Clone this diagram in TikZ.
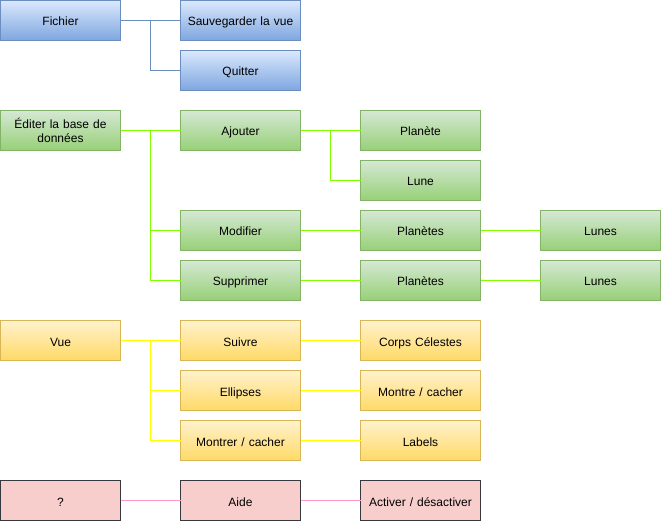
\documentclass[tikz,border=0pt]{standalone}
\usepackage{fontspec}
\setmainfont{Liberation Sans}
\definecolor{bluetop}{HTML}{DAE8FC}
\definecolor{bluebot}{HTML}{7EA6E0}
\definecolor{blueline}{HTML}{6C8EBF}
\definecolor{greentop}{HTML}{D5E8D4}
\definecolor{greenbot}{HTML}{97D077}
\definecolor{greenline}{HTML}{82B366}
\definecolor{greenedge}{HTML}{80FF00}
\definecolor{yellowtop}{HTML}{FFF2CC}
\definecolor{yellowbot}{HTML}{FFD966}
\definecolor{yellowline}{HTML}{D6B656}
\definecolor{yellowedge}{HTML}{FFFF00}
\definecolor{redfill}{HTML}{F8CECC}
\definecolor{redline}{HTML}{36393D}
\definecolor{pinkedge}{HTML}{FF99CC}
\begin{document}
\begin{tikzpicture}[x=1pt,y=-1pt,line width=1pt,
        every node/.style={minimum width=120pt,minimum height=40pt,inner sep=2pt,outer sep=0pt,
          align=center,text width=112pt,text height=11pt,text depth=0pt,
          font=\fontsize{12}{14}\selectfont},
        menufile/.style={draw=blueline,top color=bluetop,bottom color=bluebot},
        menuedit/.style={draw=greenline,top color=greentop,bottom color=greenbot},
        menuview/.style={draw=yellowline,top color=yellowtop,bottom color=yellowbot},
        menuhelp/.style={draw=redline,fill=redfill},
        linkfile/.style={draw=blueline},
        linkedit/.style={draw=greenedge},
        linkview/.style={draw=yellowedge},
        linkhelp/.style={draw=pinkedge}]
        \useasboundingbox (0,0) rectangle (661,521);
        \node [menufile] (fichier) at (60.5,20.5) {Fichier};
        \node [menufile] (sauver) at (240.5,20.5) {Sauvegarder la vue};
        \node [menufile] (quitter) at (240.5,70.5) {Quitter};
        \node [menuedit,text height=,text depth=] (editer) at (60.5,130.5) {Éditer la base de\\données};
        \node [menuedit] (ajouter) at (240.5,130.5) {Ajouter};
        \node [menuedit] (ajplanete) at (420.5,130.5) {Planète};
        \node [menuedit] (ajlune) at (420.5,180.5) {Lune};
        \node [menuedit] (modifier) at (240.5,230.5) {Modifier};
        \node [menuedit] (modplanetes) at (420.5,230.5) {Planètes};
        \node [menuedit] (modlunes) at (600.5,230.5) {Lunes};
        \node [menuedit] (supprimer) at (240.5,280.5) {Supprimer};
        \node [menuedit] (supplanetes) at (420.5,280.5) {Planètes};
        \node [menuedit] (suplunes) at (600.5,280.5) {Lunes};
        \node [menuview] (vue) at (60.5,340.5) {Vue};
        \node [menuview] (suivre) at (240.5,340.5) {Suivre};
        \node [menuview] (corps) at (420.5,340.5) {Corps Célestes};
        \node [menuview] (ellipses) at (240.5,390.5) {Ellipses};
        \node [menuview] (montre) at (420.5,390.5) {Montre / cacher};
        \node [menuview] (montrer) at (240.5,440.5) {Montrer / cacher};
        \node [menuview] (labels) at (420.5,440.5) {Labels};
        \node [menuhelp] (aide0) at (60.5,500.5) {?};
        \node [menuhelp] (aide) at (240.5,500.5) {Aide};
        \node [menuhelp] (activer) at (420.5,500.5) {Activer / désactiver};
        \draw [linkfile] (fichier.east) -- (sauver.west);
        \draw [linkfile] (fichier.east) -- +(30,0) |- (quitter.west);
        \draw [linkedit] (editer.east) -- (ajouter.west);
        \draw [linkedit] (editer.east) -- +(30,0) |- (modifier.west);
        \draw [linkedit] (editer.east) -- +(30,0) |- (supprimer.west);
        \draw [linkedit] (ajouter.east) -- (ajplanete.west);
        \draw [linkedit] (ajouter.east) -- +(30,0) |- (ajlune.west);
        \draw [linkedit] (modifier.east) -- (modplanetes.west);
        \draw [linkedit] (modplanetes.east) -- (modlunes.west);
        \draw [linkedit] (supprimer.east) -- (supplanetes.west);
        \draw [linkedit] (supplanetes.east) -- (suplunes.west);
        \draw [linkview] (vue.east) -- (suivre.west);
        \draw [linkview] (vue.east) -- +(30,0) |- (ellipses.west);
        \draw [linkview] (vue.east) -- +(30,0) |- (montrer.west);
        \draw [linkview] (suivre.east) -- (corps.west);
        \draw [linkview] (ellipses.east) -- (montre.west);
        \draw [linkview] (montrer.east) -- (labels.west);
        \draw [linkhelp] (aide0.east) -- (aide.west);
        \draw [linkhelp] (aide.east) -- (activer.west);
\end{tikzpicture}
\end{document}
